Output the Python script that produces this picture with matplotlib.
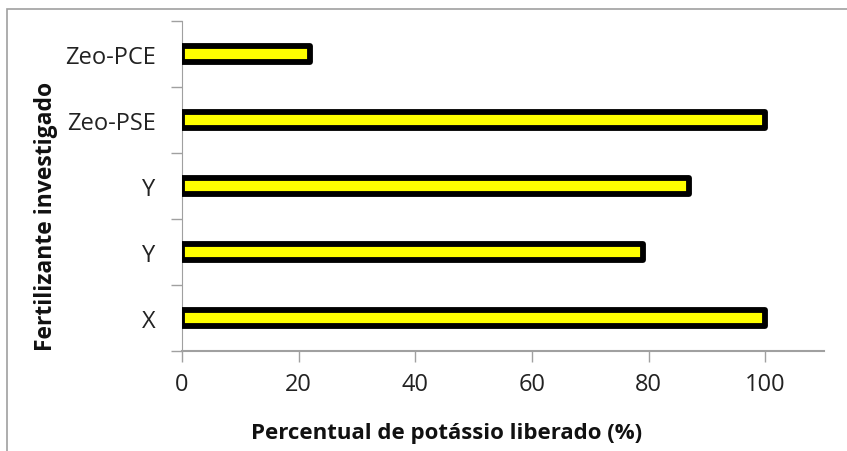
import matplotlib
matplotlib.use('Agg')
import matplotlib.pyplot as plt
from matplotlib.patches import Rectangle
import numpy as np

# dados (de baixo para cima)
categorias = ['X', 'Y', 'Y', 'Zeo-PSE', 'Zeo-PCE']
percentual = [100, 79, 87, 100, 22]

plt.rcParams['font.family'] = ['Open Sans', 'DejaVu Sans']

fig = plt.figure(figsize=(8.47, 4.52), dpi=100)
ax = fig.add_axes([0.2149, 0.2212, 0.7575, 0.7301])

pos = np.arange(len(categorias))
ax.barh(pos, percentual, height=0.235, color='#ffff00', edgecolor='black',
        linewidth=4.2, joinstyle='round', zorder=3)

ax.set_xlim(0, 110)
ax.set_ylim(-0.5, len(categorias) - 0.5)

ax.set_xticks([0, 20, 40, 60, 80, 100])
ax.set_yticks(pos)
ax.set_yticklabels(categorias)
ax.set_yticks(np.arange(-0.5, len(categorias), 1), minor=True)

ax.tick_params(axis='x', length=8, width=1, color='#a0a0a0', labelsize=17,
               pad=7, labelcolor='#222222')
ax.tick_params(axis='y', which='major', length=0, labelsize=17, pad=19,
               labelcolor='#222222')
ax.tick_params(axis='y', which='minor', length=8, width=1, color='#a0a0a0')

for lado in ['top', 'right']:
    ax.spines[lado].set_visible(False)
ax.spines['left'].set_color('#a0a0a0')
ax.spines['bottom'].set_color('#a0a0a0')
ax.spines['bottom'].set_linewidth(1.5)

ax.set_xlabel('Percentual de potássio liberado (%)', fontsize=16,
              fontweight='bold', color='#111111')
ax.set_ylabel('Fertilizante investigado', fontsize=16.5, fontweight='bold',
              labelpad=5, color='#111111')
ax.xaxis.set_label_coords(0.413, -0.214)
ax.yaxis.label.set_y(0.41)

# moldura externa do gráfico
fig.patches.append(Rectangle((7 / 847, -0.1), 1.2, 1.1 - 10 / 452,
                             transform=fig.transFigure, fill=False,
                             edgecolor='#a0a0a0', linewidth=1.2))

fig.savefig('out.png', dpi=100)
